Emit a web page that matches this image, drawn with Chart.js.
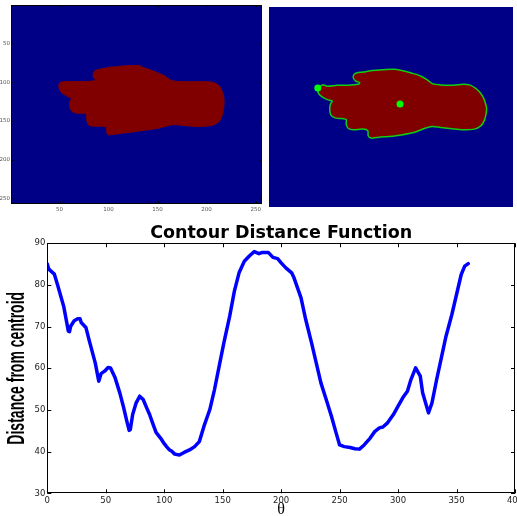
<!DOCTYPE html>
<html>
<head>
<meta charset="utf-8">
<script src="https://cdn.jsdelivr.net/npm/chart.js@4.4.0/dist/chart.umd.min.js"></script>
<style>
html,body{margin:0;padding:0;background:#fff;overflow:hidden;width:517px;height:516px;}
canvas{position:absolute;display:block;}
#g1{left:0;top:0;}
#g2{left:265px;top:3px;}
#g3{left:0;top:215px;}
</style>
</head>
<body>
<canvas id="g1" width="264" height="216"></canvas>
<canvas id="g2" width="252" height="208"></canvas>
<canvas id="g3" width="517" height="301"></canvas>
<script>
// ---------- data ----------
const IMG_TICKS = [50, 100, 150, 200, 250];

// hand mask outline (image pixel coordinates), left panel
const MASK_X = [50.5, 54, 62, 72, 82, 87, 85, 84.3, 84.8, 87.5, 93, 100.6, 110, 118, 126, 133, 135, 145, 157, 164,
  172, 190, 203, 209, 213, 215.6, 217.3, 217.8, 217.2, 215.5, 212.5, 206, 196, 185, 174, 166, 159.5, 151, 139.4, 126,
  114, 104, 100, 98.3, 98, 96.5, 90, 82, 79, 77.8, 77.2, 75, 67, 62.5, 60.5, 60.5, 62, 57, 52.5, 49.8, 49.3, 50.5];
const MASK_Y = [100.5, 99.5, 99.3, 99.2, 98.8, 97.5, 95, 91, 87, 84.5, 82.7, 81, 79.8, 78.9, 78.5, 79.2, 81, 85.4, 91.9, 97.8,
  99.3, 99.4, 99.6, 101.5, 105, 111, 118, 126, 135, 144, 151, 155.5, 157, 156.8, 155.5, 154.8, 156.4, 159.3, 161.5, 164,
  165.8, 167.5, 168, 165.5, 160, 157.2, 156.8, 156.5, 154, 149, 141, 140, 140, 137.5, 132, 125, 121.5, 117.5, 114, 109, 104, 100.5];

// traced contour (image pixel coordinates), right panel
const CONTOUR_X = [51.2, 56.2, 61.3, 71.5, 81.6, 93.5, 95.2, 91.1, 88.4, 89.1, 91.8, 98.6, 108.7, 118.9, 130.8, 139.2,
  149.4, 159.6, 166.3, 171.4, 179.9, 193.4, 203.6, 210.4, 216.5, 221.2, 224.6, 226.6, 228.3, 227.6, 225.6, 222.2,
  215.4, 203.6, 190.0, 179.9, 171.4, 162.9, 152.8, 139.2, 125.7, 115.5, 107.0, 104.0, 103.7, 98.6, 88.4, 83.3, 81.0,
  81.0, 76.6, 69.1, 64.7, 63.7, 64.7, 66.4, 61.3, 56.2, 52.8, 51.2, 51.2];
const CONTOUR_Y = [103.8, 99.7, 101.3, 100.1, 100.1, 98.9, 96.8, 94.8, 90.7, 86.6, 84.5, 83.3, 81.2, 80.4, 79.6, 81.2,
  84.5, 88.6, 93.5, 98.1, 99.7, 100.1, 98.9, 99.7, 103.8, 109.1, 115.3, 121.4, 129.6, 137.8, 146.1, 152.2,
  156.3, 157.1, 155.5, 154.3, 153.0, 155.5, 160.4, 163.7, 165.7, 166.6, 167.8, 164.5, 158.4, 156.3, 157.1, 155.5, 150.2,
  144.0, 142.8, 141.9, 137.8, 129.6, 123.5, 120.2, 118.6, 115.3, 112.0, 107.9, 103.8];
const MARK_X = [51.2, 137.5];   // start point, centroid
const MARK_Y = [103.8, 124.3];

// contour distance function
const THETA = [0, 1, 2, 6, 9, 14, 18, 19, 20, 23, 26, 28, 29, 33, 36, 41, 44, 46, 49, 50, 52, 54, 58, 62, 65, 68, 70, 71,
  73, 76, 79, 82, 85, 87.5, 90, 93, 97, 100, 102, 104.5, 106, 109, 113, 117, 121.6, 126, 130, 134, 139, 143, 147, 151,
  156, 160, 164, 168.5, 173, 177, 181, 184, 189, 193, 197, 200, 204, 209, 211, 214, 217, 221, 226, 230, 234, 239, 243,
  247, 250, 254, 259, 263, 267, 271, 276, 280, 284, 287, 291, 296, 300, 304, 308, 311, 315, 319, 321, 326, 329, 333,
  337, 341, 346, 350, 354, 357, 360];
const DIST = [85.0, 84.0, 83.6, 82.6, 79.8, 74.9, 68.9, 68.8, 70.1, 71.4, 71.9, 71.9, 71.0, 69.8, 66.5, 61.3, 56.9, 58.7,
  59.3, 59.6, 60.2, 60.1, 57.7, 54.1, 50.9, 47.3, 45.1, 45.3, 48.9, 51.7, 53.3, 52.5, 50.5, 48.9, 46.9, 44.6, 43.2, 41.9,
  41.2, 40.4, 40.2, 39.4, 39.2, 39.8, 40.4, 41.2, 42.4, 46.1, 50.1, 54.9, 60.5, 66.1, 72.5, 78.5, 82.9, 85.7, 87.0, 88.0,
  87.5, 87.8, 87.8, 86.6, 86.3, 85.3, 84.1, 82.9, 81.7, 79.3, 76.9, 71.7, 66.1, 61.3, 56.5, 52.1, 48.5, 44.5, 41.6, 41.2,
  41.0, 40.7, 40.6, 41.6, 43.2, 44.8, 45.7, 45.9, 46.9, 48.9, 50.9, 52.9, 54.5, 57.3, 60.1, 58.1, 54.1, 49.3, 51.7, 57.3,
  62.5, 67.7, 72.9, 77.7, 82.5, 84.5, 85.1];
const THETA_TICKS = [0, 50, 100, 150, 200, 250, 300, 350, 400];
const DIST_TICKS = [30, 40, 50, 60, 70, 80, 90];

// ---------- plugins ----------
const bgPlugin = {
  id: 'bg',
  beforeDraw(chart, args, opts) {
    if (!opts.color) return;
    const a = chart.chartArea, c = chart.ctx;
    c.save();
    c.fillStyle = opts.color;
    c.fillRect(a.left, a.top, a.right - a.left, a.bottom - a.top);
    c.restore();
  }
};
const framePlugin = {
  id: 'frame',
  afterDraw(chart, args, opts) {
    if (!opts.show) return;
    const a = chart.chartArea, c = chart.ctx, L = opts.len;
    const xs = chart.scales.x, ys = chart.scales.y;
    c.save();
    c.strokeStyle = '#000';
    c.lineWidth = 1;
    c.beginPath();
    xs.ticks.forEach(t => {
      const p = Math.round(xs.getPixelForValue(t.value)) + 0.5;
      c.moveTo(p, a.bottom); c.lineTo(p, a.bottom - L);
      c.moveTo(p, a.top); c.lineTo(p, a.top + L);
    });
    ys.ticks.forEach(t => {
      const p = Math.round(ys.getPixelForValue(t.value)) + 0.5;
      c.moveTo(a.left, p); c.lineTo(a.left + L, p);
      c.moveTo(a.right, p); c.lineTo(a.right - L, p);
    });
    c.stroke();
    c.strokeRect(Math.round(a.left) + 0.5, Math.round(a.top) + 0.5,
      Math.round(a.right - a.left) - 1, Math.round(a.bottom - a.top) - 1);
    c.restore();
  }
};

const BLUE = '#000086';
const RED = '#800000';
const pts = (xs, ys) => xs.map((x, i) => ({x: x, y: ys[i]}));

// ---------- left: mask image ----------
new Chart(document.getElementById('g1'), {
  type: 'scatter',
  data: {datasets: [{
    data: pts(MASK_X, MASK_Y), showLine: true, fill: 'shape',
    backgroundColor: RED, borderColor: RED, borderWidth: 1, pointRadius: 0, tension: 0.3
  }]},
  options: {
    responsive: false, animation: false, events: [],
    layout: {padding: {top: 5, right: 2, left: 0, bottom: 0}},
    plugins: {legend: {display: false}, tooltip: {enabled: false}, bg: {color: BLUE}, frame: {show: true, len: 2}},
    scales: {
      x: {type: 'linear', min: 0.5, max: 256.5,
        afterBuildTicks: s => { s.ticks = IMG_TICKS.map(v => ({value: v})); },
        afterFit: s => { s.height = 12.5; s.paddingLeft = 0; s.paddingRight = 0; },
        grid: {display: false, drawTicks: false}, border: {display: false},
        ticks: {font: {size: 5.5, family: 'DejaVu Sans'}, color: '#555', padding: 3, maxRotation: 0, autoSkip: false}},
      y: {type: 'linear', reverse: true, min: 0.5, max: 256.5,
        afterBuildTicks: s => { s.ticks = IMG_TICKS.map(v => ({value: v})); },
        afterFit: s => { s.width = 11; s.paddingTop = 0; s.paddingBottom = 0; },
        grid: {display: false, drawTicks: false}, border: {display: false},
        ticks: {font: {size: 5.5, family: 'DejaVu Sans'}, color: '#555', padding: 1, autoSkip: false}}
    }
  },
  plugins: [bgPlugin, framePlugin]
});

// ---------- right: traced contour ----------
new Chart(document.getElementById('g2'), {
  type: 'scatter',
  data: {datasets: [
    {data: pts(MARK_X, MARK_Y), showLine: false, pointRadius: 3.5, pointBackgroundColor: '#00ff00', pointBorderWidth: 0},
    {data: pts(CONTOUR_X, CONTOUR_Y), showLine: true, fill: 'shape',
      backgroundColor: RED, borderColor: '#12cc12', borderWidth: 1.5, pointRadius: 0, tension: 0.3}
  ]},
  options: {
    responsive: false, animation: false, events: [],
    layout: {padding: 0},
    plugins: {legend: {display: false}, tooltip: {enabled: false}, bg: {color: BLUE}, frame: {show: false}},
    scales: {
      x: {type: 'linear', min: 0, max: 256, display: false},
      y: {type: 'linear', reverse: true, min: 0, max: 256, display: false}
    }
  },
  plugins: [bgPlugin, framePlugin]
});

// ---------- bottom: distance function ----------
const Y_TITLE_SQUEEZE = 0.61;   // condensed look of the y-axis title
new Chart(document.getElementById('g3'), {
  type: 'line',
  data: {datasets: [{
    data: pts(THETA, DIST), borderColor: '#0000ff', borderWidth: 3.5, pointRadius: 0, tension: 0,
    borderJoinStyle: 'round', borderCapStyle: 'round', fill: false
  }]},
  options: {
    responsive: false, animation: false, events: [],
    layout: {padding: {right: 2, top: 0, left: 0, bottom: 0}},
    plugins: {
      legend: {display: false}, tooltip: {enabled: false}, frame: {show: true, len: 4},
      title: {display: true, fullSize: false, text: 'Contour Distance Function', color: '#000',
        font: {family: 'DejaVu Sans', size: 17.5, weight: 'bold', lineHeight: 1.1}, padding: {top: 9, bottom: 0}}
    },
    scales: {
      x: {type: 'linear', min: 0, max: 400,
        afterBuildTicks: s => { s.ticks = THETA_TICKS.map(v => ({value: v})); },
        afterFit: s => { s.height = 22.7; s.paddingLeft = 0; s.paddingRight = 0; },
        grid: {display: false, drawTicks: false}, border: {display: false},
        ticks: {font: {size: 8.5, family: 'DejaVu Sans'}, color: '#222', padding: 2, maxRotation: 0, autoSkip: false},
        title: {display: true, text: 'θ', color: '#000', font: {family: 'Liberation Serif', size: 16, lineHeight: 0.8}, padding: 0}},
      y: {type: 'linear', min: 30, max: 90,
        afterBuildTicks: s => { s.ticks = DIST_TICKS.map(v => ({value: v})); },
        afterFit: s => {
          s.width = 47.3; s.paddingTop = 0; s.paddingBottom = 0;
          if (!s._squeezed) {
            const orig = s.drawTitle;
            s.drawTitle = function () {
              const c = this.ctx, cy = (this.top + this.bottom) / 2;
              c.save();
              c.translate(0, cy); c.scale(1, Y_TITLE_SQUEEZE); c.translate(0, -cy);
              orig.apply(this, arguments);
              c.restore();
            };
            s._squeezed = true;
          }
        },
        grid: {display: false, drawTicks: false}, border: {display: false},
        ticks: {font: {size: 8.5, family: 'DejaVu Sans'}, color: '#222', padding: 2, autoSkip: false},
        title: {display: true, text: 'Distance from centroid', color: '#000',
          font: {family: "'Liberation Sans', Arial, sans-serif", size: 23, weight: 'bold', lineHeight: 1},
          padding: {top: 6, bottom: 0}}}
    }
  },
  plugins: [framePlugin]
});
</script>
</body>
</html>
